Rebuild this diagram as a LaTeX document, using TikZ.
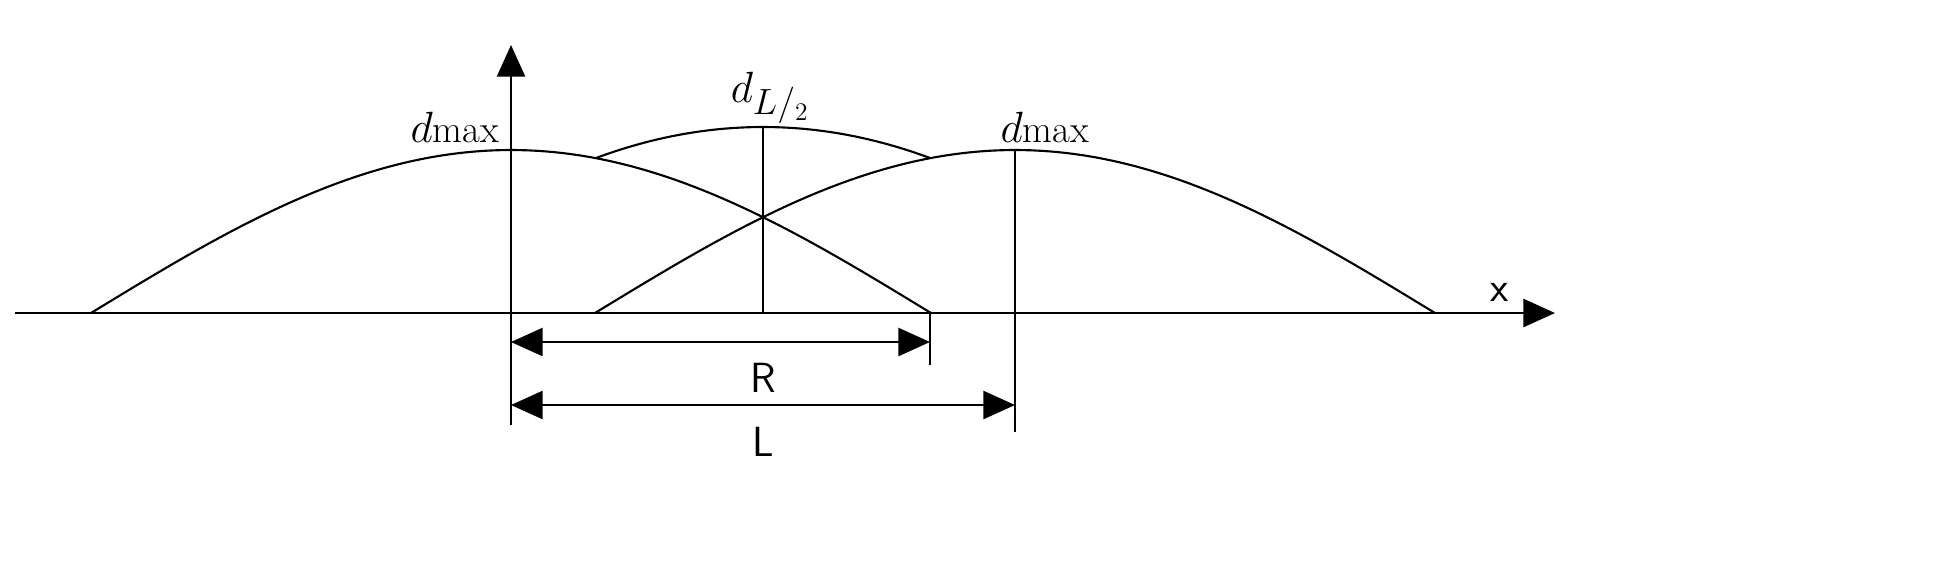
\documentclass[tikz,border=0pt]{standalone}
\usetikzlibrary{arrows.meta}
\begin{document}
\begin{tikzpicture}[x=2cm,y=-2cm,
  ln/.style={line width=1.2pt},
  thinln/.style={line width=0.7pt},
  tip/.style={-{Triangle[length=18pt,width=16pt]}},
  dtip/.style={{Triangle[length=18pt,width=16pt]}-{Triangle[length=18pt,width=16pt]}},
  lbl/.style={font=\fontsize{28}{32}\selectfont},
  sl/.style={font=\sffamily\fontsize{24}{28}\selectfont}]
\useasboundingbox (0,0) rectangle (19.57,5.68);
\coordinate (xa) at (0.15,3.13); \coordinate (xb) at (15.55,3.13);
\coordinate (ya) at (5.11,4.25); \coordinate (yb) at (5.11,0.45);
\draw[ln,tip] (xa) -- (xb);
\draw[ln,tip] (ya) -- (yb);
\draw[ln] plot[variable=\t,domain=-90:90,samples=80] ({5.11+4.2*\t/90},{3.13-1.63*cos(\t)});
\draw[ln] plot[variable=\t,domain=-90:90,samples=80] ({10.15+4.2*\t/90},{3.13-1.63*cos(\t)});
\draw[ln] plot[variable=\t,domain=-1:1,samples=50] ({7.63+1.67*\t},{1.27+0.31*\t*\t});
\coordinate (mb) at (7.63,3.13); \coordinate (mt) at (7.63,1.27);
\draw[line width=1.6pt] (mb) -- (mt);
\coordinate (pa) at (10.15,1.50); \coordinate (pb) at (10.15,4.32);
\draw[thinln] (pa) -- (pb);
\coordinate (ra) at (9.30,3.13); \coordinate (rb) at (9.30,3.65);
\draw[thinln] (ra) -- (rb);
\coordinate (r1) at (5.11,3.42); \coordinate (r2) at (9.30,3.42);
\draw[ln,dtip] (r1) -- (r2);
\coordinate (l1) at (5.11,4.05); \coordinate (l2) at (10.15,4.05);
\draw[ln,dtip] (l1) -- (l2);
\node[sl] (R) at (7.63,3.78) {R};
\node[sl] (L) at (7.63,4.42) {L};
\node[sl] (x) at (15.0,2.92) {x};
\node[lbl] (d1) at (4.55,1.27) {$d$\fontsize{22}{26}\selectfont max};
\node[lbl] (d2) at (10.45,1.27) {$d$\fontsize{22}{26}\selectfont max};
\node[lbl] (d3) at (7.70,0.98) {$d_{L/_{2}}$};
\end{tikzpicture}
\end{document}
